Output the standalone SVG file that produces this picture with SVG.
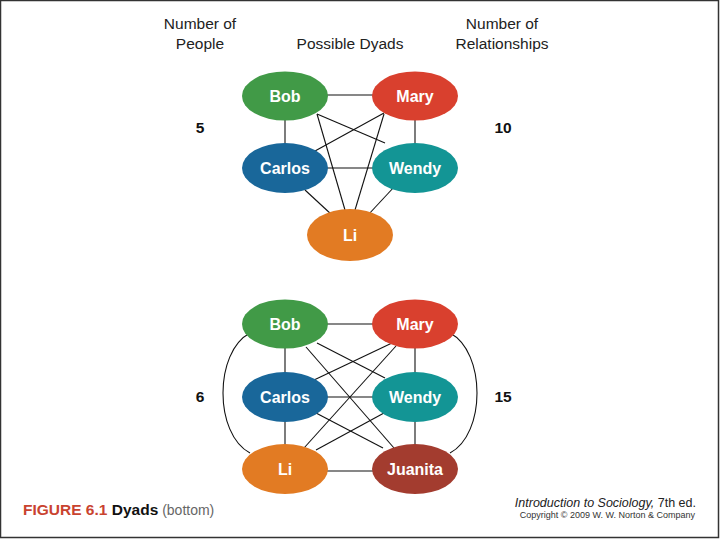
<svg xmlns="http://www.w3.org/2000/svg" width="720" height="540" viewBox="0 0 720 540">
<style>
.hdr{font-family:"Liberation Sans",Arial,sans-serif;font-size:15.5px;fill:#222;text-anchor:middle}
.num{font-family:"Liberation Sans",Arial,sans-serif;font-size:15.5px;font-weight:bold;fill:#111;text-anchor:middle}
.lbl{font-family:"Liberation Sans",Arial,sans-serif;font-size:16px;font-weight:bold;fill:#fff;text-anchor:middle}
.edge{stroke:#111;stroke-width:1.1;fill:none}
</style>
<rect x="0.5" y="0.5" width="718" height="537" fill="#fff" stroke="#333" stroke-width="1.5"/>
<text class="hdr" x="200" y="29">Number of</text>
<text class="hdr" x="200" y="49">People</text>
<text class="hdr" x="350" y="49">Possible Dyads</text>
<text class="hdr" x="502" y="29">Number of</text>
<text class="hdr" x="502" y="49">Relationships</text>
<text class="num" x="200" y="133">5</text>
<text class="num" x="503" y="133">10</text>
<text class="num" x="200" y="402">6</text>
<text class="num" x="503" y="402">15</text>
<g id="connectors">
<line class="edge" x1="320" y1="95" x2="380" y2="95"/>
<line class="edge" x1="285" y1="110" x2="285" y2="150"/>
<line class="edge" x1="415" y1="110" x2="415" y2="150"/>
<line class="edge" x1="320" y1="168" x2="380" y2="168"/>
<line class="edge" x1="317" y1="114" x2="385" y2="143"/>
<line class="edge" x1="384" y1="113" x2="315" y2="151"/>
<line class="edge" x1="317" y1="114" x2="345" y2="210"/>
<line class="edge" x1="384" y1="114" x2="355" y2="210"/>
<line class="edge" x1="305" y1="190" x2="332" y2="215"/>
<line class="edge" x1="395" y1="186" x2="368" y2="215"/>
<line class="edge" x1="320" y1="324" x2="380" y2="324"/>
<line class="edge" x1="285" y1="340" x2="285" y2="380"/>
<line class="edge" x1="415" y1="340" x2="415" y2="380"/>
<line class="edge" x1="320" y1="397" x2="380" y2="397"/>
<line class="edge" x1="285" y1="415" x2="285" y2="450"/>
<line class="edge" x1="415" y1="415" x2="415" y2="450"/>
<line class="edge" x1="320" y1="471" x2="380" y2="471"/>
<line class="edge" x1="317" y1="343" x2="385" y2="378"/>
<line class="edge" x1="306" y1="347" x2="394" y2="448"/>
<line class="edge" x1="392" y1="343" x2="314" y2="380"/>
<line class="edge" x1="396" y1="346" x2="304" y2="448"/>
<line class="edge" x1="316" y1="413" x2="383" y2="448"/>
<line class="edge" x1="384" y1="413" x2="316" y2="450"/>
<path class="edge" d="M250,333 C214,352 214,434 250,453"/>
<path class="edge" d="M450,333 C486,352 486,434 450,453"/>
</g>
<g id="top-bob"><ellipse cx="285" cy="96" rx="43" ry="24.5" fill="#419a47"/><text class="lbl" x="285" y="102">Bob</text></g>
<g id="top-mary"><ellipse cx="415" cy="96" rx="43" ry="24.5" fill="#d9402e"/><text class="lbl" x="415" y="102">Mary</text></g>
<g id="top-carlos"><ellipse cx="285" cy="168" rx="43" ry="25" fill="#19679a"/><text class="lbl" x="285" y="174">Carlos</text></g>
<g id="top-wendy"><ellipse cx="415" cy="168" rx="43" ry="25" fill="#139595"/><text class="lbl" x="415" y="174">Wendy</text></g>
<g id="top-li"><ellipse cx="350" cy="235" rx="43" ry="26" fill="#e27b23"/><text class="lbl" x="350" y="241">Li</text></g>
<g id="bot-bob"><ellipse cx="285" cy="324" rx="43" ry="24.5" fill="#419a47"/><text class="lbl" x="285" y="330">Bob</text></g>
<g id="bot-mary"><ellipse cx="415" cy="324" rx="43" ry="24.5" fill="#d9402e"/><text class="lbl" x="415" y="330">Mary</text></g>
<g id="bot-carlos"><ellipse cx="285" cy="397" rx="43" ry="25" fill="#19679a"/><text class="lbl" x="285" y="403">Carlos</text></g>
<g id="bot-wendy"><ellipse cx="415" cy="397" rx="43" ry="25" fill="#139595"/><text class="lbl" x="415" y="403">Wendy</text></g>
<g id="bot-li"><ellipse cx="285" cy="469" rx="43" ry="25" fill="#e27b23"/><text class="lbl" x="285" y="475">Li</text></g>
<g id="bot-juanita"><ellipse cx="415" cy="469" rx="43" ry="25" fill="#a33c2f"/><text class="lbl" x="415" y="475">Juanita</text></g>
<text x="23" y="515" font-family="Liberation Sans,Arial,sans-serif" font-size="15.5" font-weight="bold"><tspan fill="#c9432f">FIGURE 6.1</tspan><tspan fill="#111"> Dyads</tspan><tspan font-weight="normal" fill="#666" font-size="14"> (bottom)</tspan></text>
<text x="696" y="507" text-anchor="end" font-family="Liberation Sans,Arial,sans-serif" font-size="12.5" fill="#222"><tspan font-style="italic">Introduction to Sociology,</tspan> 7th ed.</text>
<text x="695" y="518" text-anchor="end" font-family="Liberation Sans,Arial,sans-serif" font-size="9" fill="#333">Copyright © 2009 W. W. Norton &amp; Company</text>
</svg>
